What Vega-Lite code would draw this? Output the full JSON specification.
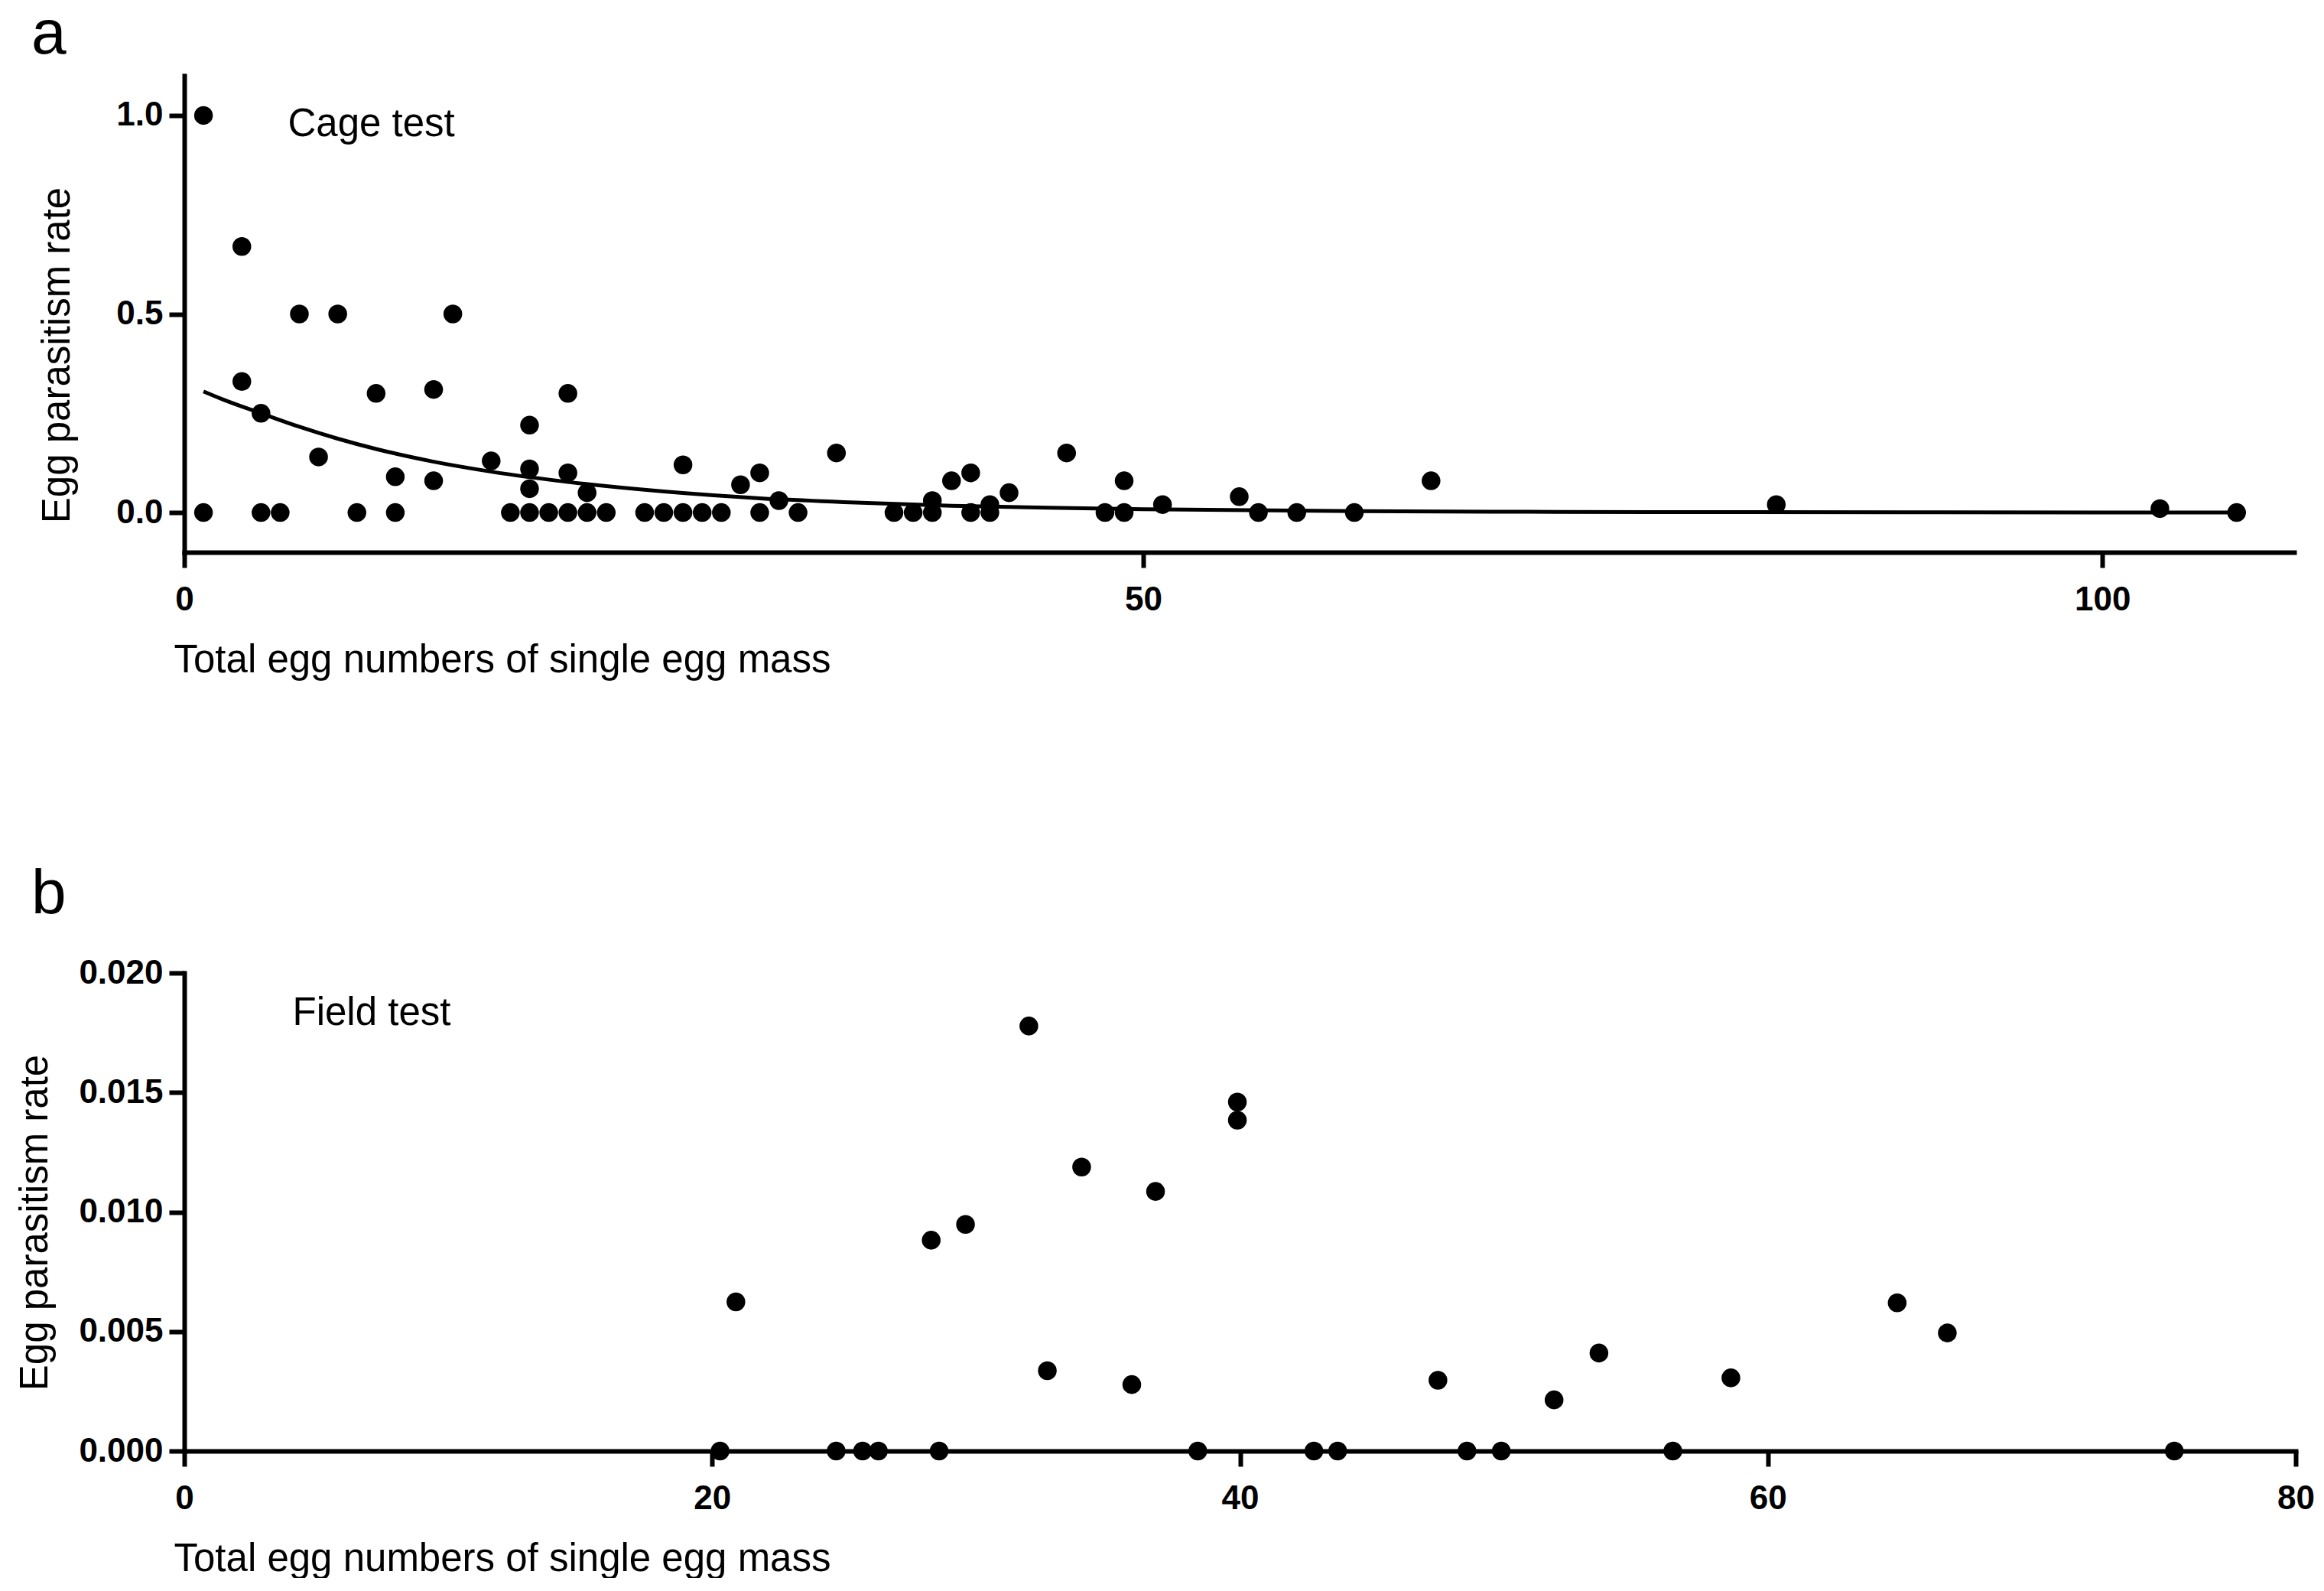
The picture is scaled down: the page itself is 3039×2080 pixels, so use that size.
{
  "$schema": "https://vega.github.io/schema/vega-lite/v6.json",
  "background": "white",
  "padding": {"left": 20, "top": 4, "right": 0, "bottom": 0},
  "spacing": 240,
  "datasets": {
    "cage": [
      {"eggs": 1, "rate": 1.0}, {"eggs": 1, "rate": 0},
      {"eggs": 3, "rate": 0.67}, {"eggs": 3, "rate": 0.33},
      {"eggs": 4, "rate": 0.25}, {"eggs": 4, "rate": 0},
      {"eggs": 5, "rate": 0}, {"eggs": 6, "rate": 0.5},
      {"eggs": 7, "rate": 0.14}, {"eggs": 8, "rate": 0.5},
      {"eggs": 9, "rate": 0}, {"eggs": 10, "rate": 0.3},
      {"eggs": 11, "rate": 0.09}, {"eggs": 11, "rate": 0},
      {"eggs": 13, "rate": 0.31}, {"eggs": 13, "rate": 0.08},
      {"eggs": 14, "rate": 0.5}, {"eggs": 16, "rate": 0.13},
      {"eggs": 17, "rate": 0}, {"eggs": 18, "rate": 0.22},
      {"eggs": 18, "rate": 0.11}, {"eggs": 18, "rate": 0.06},
      {"eggs": 18, "rate": 0}, {"eggs": 19, "rate": 0},
      {"eggs": 20, "rate": 0.3}, {"eggs": 20, "rate": 0.1},
      {"eggs": 20, "rate": 0}, {"eggs": 21, "rate": 0.05},
      {"eggs": 21, "rate": 0}, {"eggs": 22, "rate": 0},
      {"eggs": 24, "rate": 0}, {"eggs": 25, "rate": 0},
      {"eggs": 26, "rate": 0.12}, {"eggs": 26, "rate": 0},
      {"eggs": 27, "rate": 0}, {"eggs": 28, "rate": 0},
      {"eggs": 29, "rate": 0.07}, {"eggs": 30, "rate": 0.1},
      {"eggs": 30, "rate": 0}, {"eggs": 31, "rate": 0.03},
      {"eggs": 32, "rate": 0}, {"eggs": 34, "rate": 0.15},
      {"eggs": 37, "rate": 0}, {"eggs": 38, "rate": 0},
      {"eggs": 39, "rate": 0.03}, {"eggs": 39, "rate": 0},
      {"eggs": 40, "rate": 0.08}, {"eggs": 41, "rate": 0.1},
      {"eggs": 41, "rate": 0}, {"eggs": 42, "rate": 0.02},
      {"eggs": 42, "rate": 0}, {"eggs": 43, "rate": 0.05},
      {"eggs": 46, "rate": 0.15}, {"eggs": 48, "rate": 0},
      {"eggs": 49, "rate": 0.08}, {"eggs": 49, "rate": 0},
      {"eggs": 51, "rate": 0.02}, {"eggs": 55, "rate": 0.04},
      {"eggs": 56, "rate": 0}, {"eggs": 58, "rate": 0},
      {"eggs": 61, "rate": 0}, {"eggs": 65, "rate": 0.08},
      {"eggs": 83, "rate": 0.02}, {"eggs": 103, "rate": 0.01},
      {"eggs": 107, "rate": 0}
    ],
    "cagefit": [
      {"eggs": 1, "rate": 0.305}, {"eggs": 2, "rate": 0.285},
      {"eggs": 4, "rate": 0.25}, {"eggs": 6, "rate": 0.216},
      {"eggs": 8, "rate": 0.186}, {"eggs": 10, "rate": 0.16},
      {"eggs": 13, "rate": 0.128}, {"eggs": 16, "rate": 0.103},
      {"eggs": 20, "rate": 0.077}, {"eggs": 25, "rate": 0.053},
      {"eggs": 30, "rate": 0.036}, {"eggs": 35, "rate": 0.025},
      {"eggs": 40, "rate": 0.017}, {"eggs": 45, "rate": 0.012},
      {"eggs": 50, "rate": 0.0085}, {"eggs": 60, "rate": 0.004},
      {"eggs": 70, "rate": 0.002}, {"eggs": 80, "rate": 0.001},
      {"eggs": 90, "rate": 0.0005}, {"eggs": 100, "rate": 0.0002},
      {"eggs": 107, "rate": 0.0001}
    ],
    "field": [
      {"eggs": 20.3, "rate": 0}, {"eggs": 20.9, "rate": 0.00624},
      {"eggs": 24.7, "rate": 0}, {"eggs": 25.7, "rate": 0},
      {"eggs": 26.3, "rate": 0}, {"eggs": 28.3, "rate": 0.00882},
      {"eggs": 28.6, "rate": 0}, {"eggs": 29.6, "rate": 0.00948},
      {"eggs": 32.0, "rate": 0.01778}, {"eggs": 32.7, "rate": 0.00336},
      {"eggs": 34.0, "rate": 0.01188}, {"eggs": 35.9, "rate": 0.00278},
      {"eggs": 36.8, "rate": 0.01086}, {"eggs": 38.4, "rate": 0},
      {"eggs": 39.9, "rate": 0.0146}, {"eggs": 39.9, "rate": 0.01384},
      {"eggs": 42.8, "rate": 0}, {"eggs": 43.7, "rate": 0},
      {"eggs": 47.5, "rate": 0.00296}, {"eggs": 48.6, "rate": 0},
      {"eggs": 49.9, "rate": 0}, {"eggs": 51.9, "rate": 0.00214},
      {"eggs": 53.6, "rate": 0.0041}, {"eggs": 56.4, "rate": 0},
      {"eggs": 58.6, "rate": 0.00306}, {"eggs": 64.9, "rate": 0.0062},
      {"eggs": 66.8, "rate": 0.00494}, {"eggs": 75.4, "rate": 0}
    ]
  },
  "vconcat": [
    {
      "width": 2759,
      "height": 623,
      "title": {"text": "a", "anchor": "start", "frame": "group", "dx": -200, "offset": -53, "baseline": "alphabetic", "fontSize": 82, "font": "Liberation Sans", "fontWeight": "normal", "color": "black"},
      "layer": [
        {
          "data": {"name": "cage"},
          "mark": {"type": "circle", "size": 600, "opacity": 1, "color": "black"},
          "encoding": {
            "x": {"field": "eggs", "type": "quantitative", "scale": {"domain": [0, 110], "nice": false, "zero": false},
                  "axis": {"values": [0, 50, 100], "title": "Total egg numbers of single egg mass"}},
            "y": {"field": "rate", "type": "quantitative", "scale": {"domain": [-0.1, 1.1], "nice": false, "zero": false},
                  "axis": {"values": [0, 0.5, 1], "format": ".1f", "title": "Egg parasitism rate", "titlePadding": 50, "titleY": 365}}
          }
        },
        {
          "data": {"name": "cagefit"},
          "mark": {"type": "line", "color": "black", "strokeWidth": 5, "interpolate": "monotone"},
          "encoding": {
            "x": {"field": "eggs", "type": "quantitative"},
            "y": {"field": "rate", "type": "quantitative"}
          }
        },
        {
          "data": {"values": [{}]},
          "mark": {"type": "text", "align": "left", "baseline": "alphabetic", "fontSize": 51, "font": "Liberation Sans", "color": "black"},
          "encoding": {
            "x": {"datum": 5.4},
            "y": {"datum": 0.947},
            "text": {"value": "Cage test"}
          }
        }
      ]
    },
    {
      "width": 2761,
      "height": 625,
      "title": {"text": "b", "anchor": "start", "frame": "group", "dx": -200, "offset": -26, "baseline": "alphabetic", "fontSize": 82, "font": "Liberation Sans", "fontWeight": "normal", "color": "black"},
      "layer": [
        {
          "data": {"name": "field"},
          "mark": {"type": "circle", "size": 600, "opacity": 1, "color": "black"},
          "encoding": {
            "x": {"field": "eggs", "type": "quantitative", "scale": {"domain": [0, 80], "nice": false},
                  "axis": {"values": [0, 20, 40, 60, 80], "title": "Total egg numbers of single egg mass"}},
            "y": {"field": "rate", "type": "quantitative", "scale": {"domain": [0, 0.02], "nice": false},
                  "axis": {"values": [0, 0.005, 0.01, 0.015, 0.02], "format": ".3f", "title": "Egg parasitism rate", "titlePadding": 30, "titleY": 326}}
          }
        },
        {
          "data": {"values": [{}]},
          "mark": {"type": "text", "align": "left", "baseline": "alphabetic", "fontSize": 51, "font": "Liberation Sans", "color": "black"},
          "encoding": {
            "x": {"datum": 4.1},
            "y": {"datum": 0.01782},
            "text": {"value": "Field test"}
          }
        }
      ]
    }
  ],
  "config": {
    "view": {"stroke": null},
    "axis": {
      "grid": false,
      "domainColor": "black",
      "domainWidth": 6,
      "domainCap": "square",
      "tickColor": "black",
      "tickWidth": 6,
      "tickSize": 20,
      "labelFont": "Liberation Sans",
      "labelFontWeight": "bold",
      "labelFontSize": 44,
      "labelColor": "black",
      "labelPadding": 8,
      "labelFlush": false,
      "labelOverlap": false,
      "titleFont": "Liberation Sans",
      "titleFontWeight": "normal",
      "titleFontSize": 51,
      "titleColor": "black"
    },
    "axisX": {"titleAnchor": "start", "titleAlign": "left", "titleX": -14, "titlePadding": 32, "labelPadding": 20}
  }
}
